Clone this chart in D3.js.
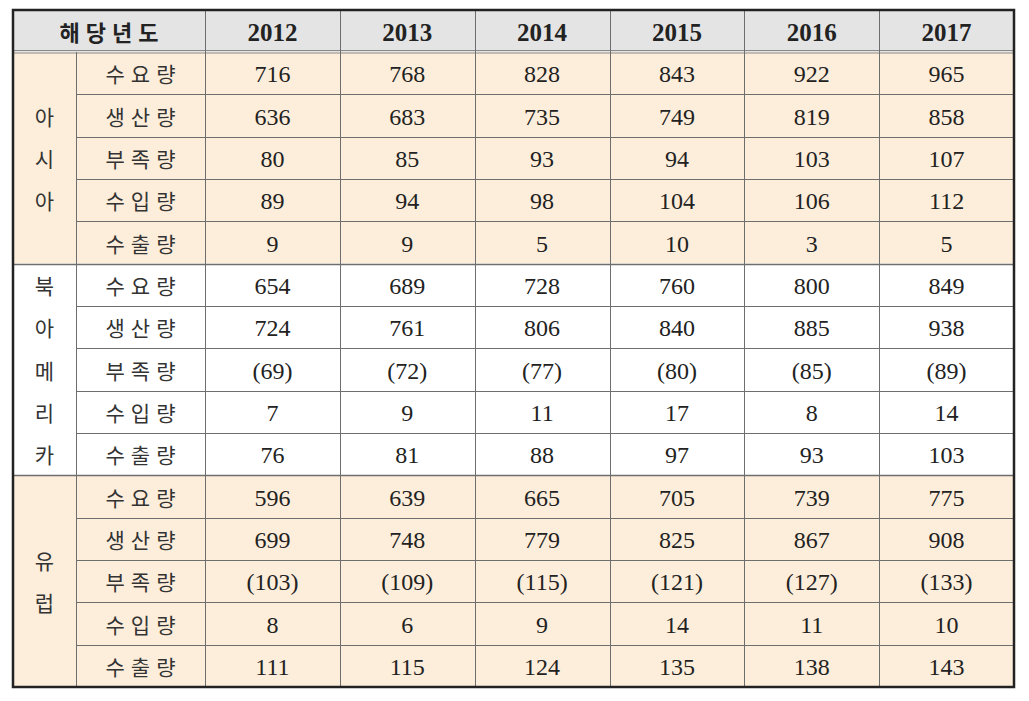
<!DOCTYPE html>
<html>
<head>
<meta charset="utf-8">
<script src="https://cdn.jsdelivr.net/npm/d3@7"></script>
<style>
  body { margin: 0; background: #fff; }
</style>
</head>
<body>
<div id="plot"></div>
<script>
// data
const years = ["2012", "2013", "2014", "2015", "2016", "2017"];
const regions = ["아시아", "북아메리카", "유럽"];
const measures = ["수요량", "생산량", "부족량", "수입량", "수출량"];
const headerLabel = "해당년도";

const asia = [
  [716, 768, 828, 843, 922, 965],
  [636, 683, 735, 749, 819, 858],
  [80, 85, 93, 94, 103, 107],
  [89, 94, 98, 104, 106, 112],
  [9, 9, 5, 10, 3, 5]
];
const northAmerica = [
  [654, 689, 728, 760, 800, 849],
  [724, 761, 806, 840, 885, 938],
  [-69, -72, -77, -80, -85, -89],
  [7, 9, 11, 17, 8, 14],
  [76, 81, 88, 97, 93, 103]
];
const europe = [
  [596, 639, 665, 705, 739, 775],
  [699, 748, 779, 825, 867, 908],
  [-103, -109, -115, -121, -127, -133],
  [8, 6, 9, 14, 11, 10],
  [111, 115, 124, 135, 138, 143]
];
const regionValues = [asia, northAmerica, europe];
const regionFill = ["#fdeedb", "#ffffff", "#fdeedb"];

// layout
const tLeft = 13, tTop = 10, tRight = 1014, tBottom = 687;
const groupW = 63, labelW = 129;
const headerH = 42;

const svg = d3.select("#plot").append("svg")
  .attr("width", 1029)
  .attr("height", 701);

const x = d3.scaleBand()
  .domain(years)
  .range([tLeft + groupW + labelW, tRight]);

const rows = [];
regions.forEach((r, ri) => measures.forEach((m, mi) => rows.push({ r, ri, m, mi, vals: regionValues[ri][mi] })));

const y = d3.scaleBand()
  .domain(d3.range(rows.length))
  .range([tTop + headerH, tBottom]);

const fmt = v => v < 0 ? `(${-v})` : `${v}`;
const numFont = "'Liberation Serif', 'DejaVu Serif', serif";
const krFont = "'Noto Sans CJK KR', 'Noto Sans', sans-serif";
const lineColor = "#6e6e6e";

// header background
svg.append("rect")
  .attr("x", tLeft).attr("y", tTop)
  .attr("width", tRight - tLeft).attr("height", headerH)
  .attr("fill", "#e4e4e4");

// region backgrounds
regions.forEach((r, ri) => {
  const y0 = y(ri * measures.length);
  const y1 = y(ri * measures.length + measures.length - 1) + y.bandwidth();
  svg.append("rect")
    .attr("x", tLeft).attr("y", y0)
    .attr("width", tRight - tLeft).attr("height", y1 - y0)
    .attr("fill", regionFill[ri]);
});

// horizontal grid lines
const hg = svg.append("g").attr("stroke", lineColor).attr("stroke-width", 1);
rows.forEach((d, i) => {
  if (i === 0) return;
  const yy = Math.round(y(i)) + 0.5;
  const x0 = d.mi === 0 ? tLeft : tLeft + groupW;
  hg.append("line").attr("x1", x0).attr("x2", tRight).attr("y1", yy).attr("y2", yy)
    .attr("stroke-width", d.mi === 0 ? 1.5 : 1);
});
// double line under the header
const hy = tTop + headerH;
hg.append("line").attr("x1", tLeft).attr("x2", tRight).attr("y1", hy - 1.5).attr("y2", hy - 1.5).attr("stroke", "#888");
hg.append("line").attr("x1", tLeft).attr("x2", tRight).attr("y1", hy + 1).attr("y2", hy + 1).attr("stroke", "#888");

// vertical grid lines
const vxs = [tLeft + groupW, ...years.slice(1).map(yr => x(yr)), x(years[0])];
vxs.forEach((vx, i) => {
  const y0 = i === 0 ? tTop + headerH : tTop;
  hg.append("line").attr("x1", Math.round(vx) + 0.5).attr("x2", Math.round(vx) + 0.5)
    .attr("y1", y0).attr("y2", tBottom);
});

// outer border
svg.append("rect")
  .attr("x", tLeft).attr("y", tTop)
  .attr("width", tRight - tLeft).attr("height", tBottom - tTop)
  .attr("fill", "none")
  .attr("stroke", "#222")
  .attr("stroke-width", 2.5);

// header text
svg.append("text")
  .attr("x", tLeft + (groupW + labelW) / 2 + 3)
  .attr("y", tTop + headerH / 2)
  .attr("text-anchor", "middle")
  .attr("dominant-baseline", "central")
  .attr("font-family", krFont)
  .attr("font-weight", "bold")
  .attr("font-size", 22)
  .attr("letter-spacing", 6)
  .attr("fill", "#222")
  .text(headerLabel);

svg.append("g").selectAll("text")
  .data(years)
  .join("text")
    .attr("x", d => x(d) + x.bandwidth() / 2)
    .attr("y", tTop + headerH / 2 + 1)
    .attr("text-anchor", "middle")
    .attr("dominant-baseline", "central")
    .attr("font-family", numFont)
    .attr("font-weight", "bold")
    .attr("font-size", 25)
    .attr("fill", "#222")
    .text(d => d);

// region labels (vertical, one char per line)
regions.forEach((r, ri) => {
  const chars = Array.from(r);
  const y0 = y(ri * measures.length);
  const y1 = y(ri * measures.length + measures.length - 1) + y.bandwidth();
  const mid = (y0 + y1) / 2;
  const step = y.bandwidth();
  svg.append("g").selectAll("text")
    .data(chars)
    .join("text")
      .attr("x", tLeft + groupW / 2)
      .attr("y", (d, i) => mid + (i - (chars.length - 1) / 2) * step)
      .attr("text-anchor", "middle")
      .attr("dominant-baseline", "central")
      .attr("font-family", krFont)
      .attr("font-size", 21)
      .attr("fill", "#333")
      .text(d => d);
});

// measure labels
svg.append("g").selectAll("text")
  .data(rows)
  .join("text")
    .attr("x", tLeft + groupW + labelW / 2 + 3)
    .attr("y", (d, i) => y(i) + y.bandwidth() / 2)
    .attr("text-anchor", "middle")
    .attr("dominant-baseline", "central")
    .attr("font-family", krFont)
    .attr("font-size", 21)
    .attr("letter-spacing", 6)
    .attr("fill", "#333")
    .text(d => d.m);

// values
const cells = rows.flatMap((d, i) => d.vals.map((v, j) => ({ i, year: years[j], v })));
svg.append("g").selectAll("text")
  .data(cells)
  .join("text")
    .attr("x", d => x(d.year) + x.bandwidth() / 2)
    .attr("y", d => y(d.i) + y.bandwidth() / 2 + 1)
    .attr("text-anchor", "middle")
    .attr("dominant-baseline", "central")
    .attr("font-family", numFont)
    .attr("font-size", 24)
    .attr("fill", "#222")
    .text(d => fmt(d.v));
</script>
</body>
</html>
